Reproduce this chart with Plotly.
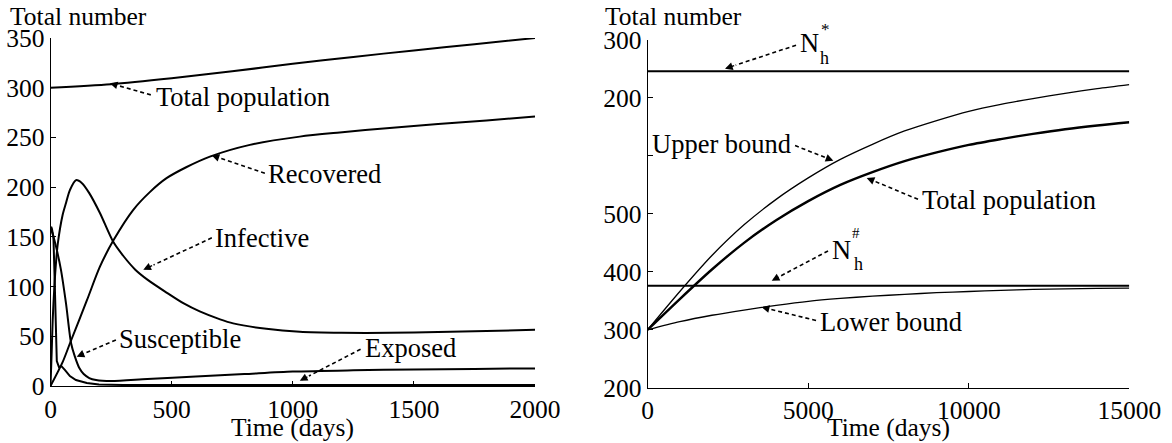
import plotly.graph_objects as go

# ---------------- Left panel data (Time in days) ----------------
t_total = [0, 250, 500, 750, 1000, 1250, 1500, 1750, 2000]
total_pop = [300, 303.5, 309.5, 316.5, 324, 331, 337.5, 343.8, 350]

t_rec = [0, 50, 82, 150, 204, 261, 341, 410, 479, 560, 658, 823, 1029, 1194, 1400, 1600, 1800, 2000]
recovered = [0, 24, 44, 86, 120, 147, 177, 195, 209, 220, 230.7, 242.5, 250.8, 255, 259.5, 263.5, 267, 271]

t_inf = [0, 5, 9, 16, 23, 30, 50, 64, 80, 105, 130, 160, 204, 259, 300, 350, 400, 479, 550, 616, 700,
         754, 891, 1029, 1200, 1400, 1600, 1800, 2000]
infective = [0, 35, 66, 100, 125, 143, 172, 184, 197, 207, 204, 194, 174, 145, 131, 117, 107, 94, 83, 75, 67,
             63, 57.5, 54.5, 53.5, 53.5, 54.3, 55.3, 56.5]

t_exp = [0, 3, 6, 12, 16, 19, 21, 26, 35, 45, 60, 80, 105, 150, 200, 300, 500, 1000, 2000]
exposed = [157, 160, 158, 150, 117, 83, 50, 25, 19, 20, 16, 10, 6, 3, 1.5, 1, 1, 1, 1]

t_sus = [0, 10, 23, 43, 64, 85, 100, 119, 137, 160, 188, 250, 400, 600, 800, 1000, 1250, 1500, 1750, 2000]
susceptible = [160, 152, 140, 117, 83, 43, 30, 18, 12, 8, 6, 5, 7, 9.5, 12, 14.5, 15.8, 16.6, 17.2, 17.7]

left_xticks = [0, 500, 1000, 1500, 2000]
left_yticks = [0, 50, 100, 150, 200, 250, 300, 350]

# ---------------- Right panel data ----------------
t_r = [0, 1000, 2000, 3000, 4000, 5000, 6000, 7000, 8000, 9000, 10000, 11000, 12000, 13000, 14000, 15000]
upper_bound = [300, 366, 428, 481, 525, 562, 594, 620, 643, 661, 677, 689, 699, 708, 716, 723]
total_r = [300, 353, 404, 450, 489, 522, 550, 572, 591, 606, 619, 629, 638, 646, 652.5, 658]
lower_bound = [300, 314, 325, 334, 342, 349, 354, 358, 361, 364, 366, 368, 369.5, 370.5, 371.5, 372]
t_level = [0, 15000]
n_star = [746, 746]
n_hash = [376, 376]

right_xticks = [0, 5000, 10000, 15000]
right_xticktext = ["0", "5000", "10000", "15000"]
right_yticks = [200, 300, 400, 500, 600, 700, 800]
right_yticktext = ["200", "300", "400", "500", "", "200", "300"]

FONT = "'Liberation Serif', 'Times New Roman', Times, 'DejaVu Serif', serif"
FS = 25.5
FS_LABEL = 26.5

fig = go.Figure()

def line(x, y, xa, ya, w):
    fig.add_trace(go.Scatter(x=x, y=y, mode="lines", xaxis=xa, yaxis=ya,
                             line=dict(color="black", width=w, shape="spline", smoothing=0.8),
                             showlegend=False, hoverinfo="skip"))

line(t_total, total_pop, "x", "y", 2)
line(t_rec, recovered, "x", "y", 2)
line(t_inf, infective, "x", "y", 2)
fig.add_trace(go.Scatter(x=t_exp, y=exposed, mode="lines", xaxis="x", yaxis="y",
                         line=dict(color="black", width=2), showlegend=False, hoverinfo="skip"))
line(t_sus, susceptible, "x", "y", 2)

line(t_level, n_star, "x2", "y2", 2)
line(t_level, n_hash, "x2", "y2", 2)
line(t_r, upper_bound, "x2", "y2", 1.3)
line(t_r, total_r, "x2", "y2", 2.4)
line(t_r, lower_bound, "x2", "y2", 1.3)

shapes = []
annotations = []

def label(xr, yr, sx, sy, tx, ty, text, lx, ly, anchor="left", frac=0.15):
    mx = tx + frac * (sx - tx)
    my = ty + frac * (sy - ty)
    shapes.append(dict(type="line", xref=xr, yref=yr, x0=sx, y0=sy, x1=mx, y1=my,
                       line=dict(color="black", width=1.6, dash="4px,3px")))
    annotations.append(dict(x=tx, y=ty, ax=mx, ay=my, xref=xr, yref=yr, axref=xr, ayref=yr,
                            text="", showarrow=True, arrowhead=2, arrowsize=1.1, arrowwidth=1.4,
                            arrowcolor="black"))
    if text:
        annotations.append(dict(x=lx, y=ly, xref=xr, yref=yr, text=text, showarrow=False,
                                xanchor=anchor, yanchor="middle",
                                font=dict(family=FONT, size=FS_LABEL, color="black")))

# left panel labels
label("x", "y", 414, 292.8, 245, 304.5, "Total population", 427, 291)
label("x", "y", 885, 214, 665, 232, "Recovered", 891, 213)
label("x", "y", 666, 149, 383, 117, "Infective", 671, 149)
label("x", "y", 270, 46.3, 108, 29.5, "Susceptible", 275, 47)
label("x", "y", 1280, 37, 1029, 5.3, "Exposed", 1290, 38.7)

# right panel labels
label("x2", "y2", 4589, 617.8, 5782, 591.8, "Upper bound", 4526, 619.7, anchor="right")
label("x2", "y2", 8420, 525, 6822, 562, "Total population", 8480, 523.7)
label("x2", "y2", 5243, 316, 3551, 339, "Lower bound", 5302, 313.2)
label("x2", "y2", 4620, 791, 2408, 750.6, "N", 4682, 794.7)
label("x2", "y2", 5617, 436, 3863, 384.7, "N", 5679, 437.9)

def small(x, y, text, xs, ys, size):
    annotations.append(dict(x=x, y=y, xref="x2", yref="y2", text=text, showarrow=False,
                            xanchor="left", yanchor="middle", xshift=xs, yshift=ys,
                            font=dict(family=FONT, size=size, color="black")))

small(4682, 794.7, "h", 20, -15, 18)
small(4682, 794.7, "*", 21, 14, 17)
small(5679, 437.9, "h", 22, -14, 18)
small(5679, 437.9, "#", 20, 17, 15)

# axis titles
W, H = 1172, 443
for xpx, txt in [(8, "Total number"), (603, "Total number")]:
    annotations.append(dict(x=xpx / W, y=1 - 16 / H, xref="paper", yref="paper", text=txt,
                            showarrow=False, xanchor="left", yanchor="middle",
                            font=dict(family=FONT, size=FS, color="black")))
for xpx in [292.75, 888.5]:
    annotations.append(dict(x=xpx / W, y=1 - 427 / H, xref="paper", yref="paper", text="Time (days)",
                            showarrow=False, xanchor="center", yanchor="middle",
                            font=dict(family=FONT, size=FS, color="black")))

axis_common = dict(showline=True, linecolor="black", linewidth=1, ticks="inside", ticklen=5,
                   tickcolor="black", showgrid=False, zeroline=False, mirror=False,
                   tickfont=dict(family=FONT, size=FS, color="black"), automargin=False)

fig.update_layout(
    width=W, height=H, margin=dict(l=0, r=0, t=0, b=0),
    paper_bgcolor="white", plot_bgcolor="white",
    font=dict(family=FONT, size=FS, color="black"),
    xaxis=dict(domain=[50.5 / W, 535 / W], range=[0, 2000], tickvals=left_xticks,
               anchor="y", **axis_common),
    yaxis=dict(domain=[(H - 386) / H, (H - 38) / H], range=[0, 350], tickvals=left_yticks,
               anchor="x", **axis_common),
    xaxis2=dict(domain=[647.7 / W, 1129.3 / W], range=[0, 15000], tickvals=right_xticks,
                ticktext=right_xticktext, anchor="y2", **axis_common),
    yaxis2=dict(domain=[(H - 387.7) / H, (H - 40) / H], range=[200, 800], tickvals=right_yticks,
                ticktext=right_yticktext, anchor="x2", **axis_common),
    shapes=shapes, annotations=annotations,
)

fig.write_html("out.html")
